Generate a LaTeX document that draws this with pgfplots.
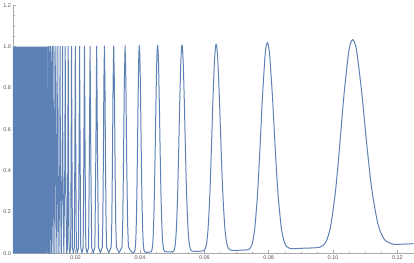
\documentclass[border=0pt]{standalone}
\usepackage{fontspec}
\setmainfont{Liberation Sans}
\usepackage{pgfplots}
\pgfplotsset{compat=1.18}
\definecolor{mmablue}{RGB}{94,129,181}
\definecolor{axgray}{RGB}{170,170,170}
\definecolor{lblgray}{RGB}{85,85,85}
\begin{document}
\begin{tikzpicture}
\begin{axis}[
  scale only axis,
  width=402bp, height=249bp,
  xmin=0.0005, xmax=0.125,
  ymin=0, ymax=1.2,
  axis lines=left,
  axis line style={-, draw=axgray, line width=0.6bp},
  tick align=inside,
  major tick length=3bp,
  minor tick length=1.8bp,
  tick style={axgray, line width=0.5bp},
  xtick={0.02,0.04,0.06,0.08,0.10,0.12},
  ytick={0,0.2,0.4,0.6,0.8,1.0,1.2},
  minor xtick={0.005,0.01,0.015,0.025,0.03,0.035,0.045,0.05,0.055,0.065,0.07,0.075,0.085,0.09,0.095,0.105,0.11,0.115},
  minor ytick={0.05,0.1,0.15,0.25,0.3,0.35,0.45,0.5,0.55,0.65,0.7,0.75,0.85,0.9,0.95,1.05,1.1,1.15},
  /pgf/number format/assume math mode=true,
  xticklabel style={/pgf/number format/.cd, fixed, fixed zerofill, precision=2},
  yticklabel style={/pgf/number format/.cd, fixed, fixed zerofill, precision=1},
  tick label style={font=\fontsize{5.5}{6}\selectfont, text=lblgray},
  xticklabel shift=-1.5bp,
  yticklabel shift=-1.5bp,
  clip=false,
]
\addplot[draw=none, fill=mmablue] coordinates {(0.0005,0) (0.0005,1.0) (0.01125,1.0) (0.01125,0)} \closedcycle;
\addplot[mmablue, line width=1bp, line join=round, smooth, tension=0.45] coordinates {
(0.125,0.0469) (0.1215,0.0443) (0.118697,0.0444) (0.115945,0.0672) (0.113963,0.1412) (0.112048,0.3087) (0.110561,0.5138) (0.108995,0.7648) (0.107472,0.9651) (0.106783,1.0164) (0.106103,1.0338) (0.105432,1.0156) (0.104769,0.9633) (0.103361,0.7613) (0.101991,0.5083) (0.100758,0.3015) (0.099258,0.1318) (0.097802,0.0556) (0.095926,0.0297) (0.090946,0.0248)
(0.086458,0.0245) (0.084988,0.0486) (0.083918,0.1233) (0.082875,0.2916) (0.082059,0.4973) (0.081193,0.7490) (0.080345,0.9498) (0.079959,1.0014) (0.079577,1.0190) (0.079199,1.0010) (0.078825,0.9490) (0.078025,0.7475) (0.077242,0.4950) (0.076532,0.2886) (0.075664,0.1194) (0.074815,0.0437) (0.073712,0.0184) (0.070736,0.0150)
(0.067990,0.0160) (0.067078,0.0404) (0.066410,0.1154) (0.065755,0.2840) (0.065240,0.4899) (0.064691,0.7418) (0.064152,0.9428) (0.063662,1.0122) (0.063179,0.9424) (0.062665,0.7410) (0.062158,0.4887) (0.061698,0.2824) (0.061132,0.1134) (0.060577,0.0379) (0.059852,0.0128) (0.057874,0.0100)
(0.056024,0.0115) (0.055403,0.0361) (0.054946,0.1113) (0.054497,0.2799) (0.054143,0.4859) (0.053765,0.7379) (0.053391,0.9390) (0.053052,1.0084) (0.052717,0.9387) (0.052357,0.7374) (0.052003,0.4852) (0.051681,0.2790) (0.051283,0.1101) (0.050892,0.0347) (0.050379,0.0097) (0.048971,0.0072)
(0.047639,0.0089) (0.047190,0.0336) (0.046858,0.1088) (0.046531,0.2775) (0.046273,0.4835) (0.045996,0.7356) (0.045723,0.9367) (0.045473,1.0062) (0.045226,0.9365) (0.044962,0.7353) (0.044700,0.4831) (0.044462,0.2769) (0.044167,0.1081) (0.043877,0.0327) (0.043495,0.0078) (0.042442,0.0054)
(0.041437,0.0073) (0.041097,0.0320) (0.040845,0.1072) (0.040596,0.2759) (0.040400,0.4820) (0.040189,0.7341) (0.039980,0.9352) (0.039789,1.0048) (0.039600,0.9351) (0.039397,0.7339) (0.039196,0.4817) (0.039013,0.2756) (0.038786,0.1067) (0.038561,0.0314) (0.038266,0.0065) (0.037448,0.0042)
};
\addplot[mmablue, line width=1bp, line join=round] coordinates {
(0.037448,0.0042)
(0.036397,0.0309) (0.036135,0.1506) (0.035875,0.4433) (0.035620,0.8214) (0.035368,1.0038) (0.035120,0.8213) (0.034874,0.4431) (0.034633,0.1503) (0.034394,0.0305) (0.033506,0.0034)
(0.032662,0.0301) (0.032451,0.1499) (0.032241,0.4425) (0.032035,0.8207) (0.031831,1.0030) (0.031630,0.8206) (0.031431,0.4424) (0.031234,0.1496) (0.031041,0.0298) (0.030315,0.0028)
(0.029623,0.0295) (0.029449,0.1493) (0.029276,0.4420) (0.029106,0.8201) (0.028937,1.0025) (0.028770,0.8201) (0.028606,0.4419) (0.028443,0.1491) (0.028283,0.0293) (0.027679,0.0023)
(0.027101,0.0291) (0.026810,0.4416) (0.026526,1.0021) (0.026247,0.4415) (0.025975,0.0289) (0.025465,0.0019)
(0.024975,0.0288) (0.024727,0.4412) (0.024485,1.0018) (0.024248,0.4412) (0.024015,0.0286) (0.023579,0.0017)
(0.023158,0.0285) (0.022945,0.4410) (0.022736,1.0016) (0.022532,0.4409) (0.022330,0.0284) (0.021953,0.0014)
(0.021587,0.0283) (0.021402,0.4408) (0.021221,1.0014) (0.021042,0.4407) (0.020867,0.0282) (0.020536,0.0013)
(0.020216,0.0281) (0.020054,0.4406) (0.019894,1.0012) (0.019737,0.4406) (0.019583,0.0281) (0.019291,0.0011)
(0.019009,0.0280) (0.018865,0.4405) (0.018724,1.0011) (0.018585,0.4404) (0.018448,0.0279) (0.018189,0.0010)
(0.017938,0.0279) (0.017810,0.4404) (0.017684,1.0009) (0.017559,0.4403) (0.017437,0.0278) (0.017206,0.0009)
(0.016866,0.4403) (0.016753,1.0008) (0.016642,0.4402) (0.016324,0.0008)
(0.016017,0.4400) (0.015915,1.0008) (0.015815,0.4400) (0.015527,0.0007)
(0.015250,0.4400) (0.015158,1.0007) (0.015066,0.4400) (0.014805,0.0007)
(0.014553,0.4400) (0.014469,1.0006) (0.014386,0.4400) (0.014147,0.0006)
(0.013840,1.0006) (0.013545,0.0005)
(0.013263,1.0005) (0.012992,0.0005)
(0.012732,1.0005) (0.012483,0.0005)
(0.012243,1.0004) (0.012012,0.0004)
(0.011789,1.0004) (0.011575,0.0004)
(0.011368,1.0004) (0.011169,0.0004)
};
\end{axis}
\end{tikzpicture}
\end{document}
